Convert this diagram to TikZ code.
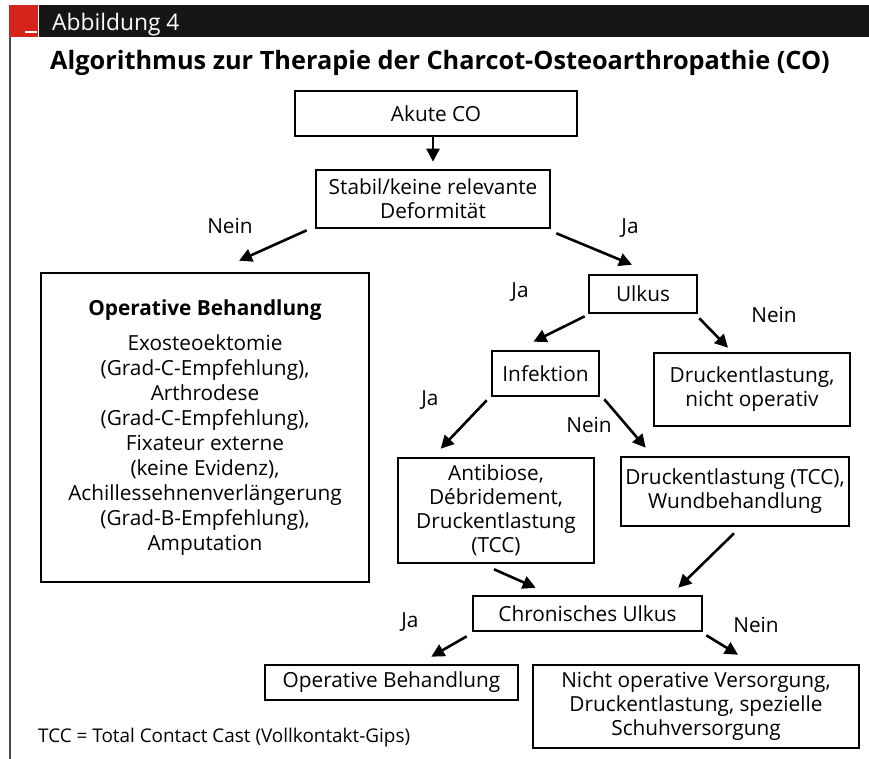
\documentclass[tikz,border=0pt]{standalone}
\usepackage{fontspec}
\setmainfont{Open Sans}
\usetikzlibrary{arrows.meta}
\definecolor{abbred}{RGB}{213,36,28}
\definecolor{abbbar}{RGB}{22,22,22}
\begin{document}
\begin{tikzpicture}[x=1pt,y=-1pt,
    box/.style={draw,line width=2.6pt,inner sep=0pt,align=center,
      font=\fontsize{20.8}{24}\selectfont},
    arr/.style={line width=2.6pt,-{Triangle[length=13pt,width=13pt]}},
    lbl/.style={inner sep=0pt,font=\fontsize{20.8}{24}\selectfont}]
    \useasboundingbox (0,0) rectangle (869,759);
    % header bar
    \fill[abbbar] (39,5) rectangle (869,37);
    \fill[abbred] (9,5) rectangle (38,37);
    \draw[white,line width=2pt] (25,32) -- (37,32);
    \draw[black!70,line width=1.6pt] (10,37) -- (10,759);
    \node[anchor=base west,inner sep=0pt,text=white,font=\fontsize{22.8}{26}\selectfont]
        (abb) at (52,31) {Abbildung 4};
    \node[inner sep=0pt,font=\bfseries\fontsize{25.3}{30}\selectfont]
        (title) at (440,63) {Algorithmus zur Therapie der Charcot-Osteoarthropathie (CO)};
    % boxes
    \node[box,minimum width=282,minimum height=45] (akute) at (436,113.5) {Akute CO};
    \node[box,minimum width=234,minimum height=58] (stabil) at (433,199)
        {Stabil/keine relevante\\Deformität};
    \node[box,minimum width=328,minimum height=309,font=\fontsize{20.8}{25}\selectfont]
        (op) at (205,427.5)
        {\textbf{Operative Behandlung}\\[10pt]
         Exosteoektomie\\(Grad-C-Empfehlung),\\Arthrodese\\(Grad-C-Empfehlung),\\
         Fixateur externe\\(keine Evidenz),\\Achillessehnenverlängerung\\
         (Grad-B-Empfehlung),\\Amputation};
    \node[box,minimum width=108,minimum height=38] (ulkus) at (643,294) {Ulkus};
    \node[box,minimum width=107,minimum height=45] (infekt) at (545.5,373.5) {Infektion};
    \node[box,minimum width=196,minimum height=73] (nichtop) at (752,389.5)
        {Druckentlastung,\\nicht operativ};
    \node[box,minimum width=196,minimum height=105] (antib) at (496,510.5)
        {Antibiose,\\Débridement,\\Druckentlastung\\(TCC)};
    \node[box,minimum width=228,minimum height=69] (wund) at (735,491.5)
        {Druckentlastung (TCC),\\Wundbehandlung};
    \node[box,minimum width=229,minimum height=35] (chron) at (587.5,613.5) {Chronisches Ulkus};
    \node[box,minimum width=253,minimum height=35] (opbeh) at (391.5,682.5) {Operative Behandlung};
    \node[box,minimum width=326,minimum height=83] (versorg) at (696,706.5)
        {Nicht operative Versorgung,\\Druckentlastung, spezielle\\Schuhversorgung};
    % arrows
    \draw[arr] (akute.south -| stabil.north) -- ([shift={(0,-7)}]stabil.north);
    \draw[arr] ([shift={(-8,1)}]stabil.south west) -- ([shift={(34,-11)}]op.north);
    \draw[arr] ([shift={(5,4)}]stabil.south east) -- ([shift={(-11,-9)}]ulkus.north);
    \draw[arr] ([shift={(-3,2)}]ulkus.south west) -- ([shift={(-12,-8)}]infekt.north);
    \draw[arr] ([shift={(1,4)}]ulkus.south east) -- ([shift={(-24,-4)}]nichtop.north);
    \draw[arr] ([shift={(-4,3)}]infekt.south west) -- ([shift={(44,-8)}]antib.north west);
    \draw[arr] ([shift={(4,2)}]infekt.south east) -- ([shift={(26,-8)}]wund.north west);
    \draw[arr] ([shift={(-2,5)}]antib.south) -- ([shift={(64,-7)}]chron.north west);
    \draw[arr] ([shift={(-1,6)}]wund.south) -- ([shift={(-25,-7)}]chron.north east);
    \draw[arr] ([shift={(-5,4)}]chron.south west) -- ([shift={(-88,-7)}]opbeh.north east);
    \draw[arr] ([shift={(3,3)}]chron.south east) -- ([shift={(42,-9)}]versorg.north);
    % labels
    \node[lbl] (nein1) at (230,226) {Nein};
    \node[lbl] (ja1) at (630,228) {Ja};
    \node[lbl] (ja2) at (520,292) {Ja};
    \node[lbl] (nein2) at (774,315) {Nein};
    \node[lbl] (ja3) at (430,400) {Ja};
    \node[lbl] (nein3) at (589,425) {Nein};
    \node[lbl] (ja4) at (410,622) {Ja};
    \node[lbl] (nein4) at (756,625) {Nein};
    \node[anchor=west,inner sep=0pt,font=\fontsize{18.9}{22}\selectfont]
        (tcc) at (38,738) {TCC = Total Contact Cast (Vollkontakt-Gips)};
\end{tikzpicture}
\end{document}
